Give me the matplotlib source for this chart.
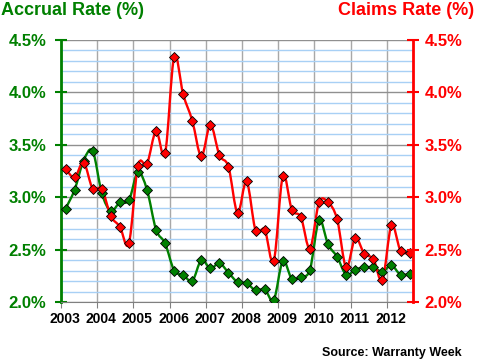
import numpy as np
import matplotlib
matplotlib.use("Agg")
import matplotlib.pyplot as plt
from matplotlib.path import Path
from matplotlib.patches import PathPatch
from matplotlib.ticker import MultipleLocator, FuncFormatter
import matplotlib.transforms as mtransforms

plt.rcParams['font.family'] = ['Liberation Sans', 'DejaVu Sans']
plt.rcParams['font.weight'] = 'bold'

# quarterly data, 2003 Q1 .. 2012 Q3
start_year = 2003
years = list(range(2003, 2013))
accrual = [2.89, 3.07, 3.35, 3.44, 3.04, 2.87, 2.95, 2.97,
           3.24, 3.07, 2.69, 2.56, 2.30, 2.26, 2.20, 2.40,
           2.32, 2.37, 2.28, 2.19, 2.18, 2.11, 2.12, 2.02,
           2.39, 2.22, 2.24, 2.31, 2.78, 2.55, 2.43, 2.26,
           2.31, 2.33, 2.33, 2.29, 2.35, 2.26, 2.27]
claims = [3.27, 3.19, 3.33, 3.08, 3.08, 2.82, 2.72, 2.56,
          3.30, 3.32, 3.63, 3.42, 4.34, 3.98, 3.73, 3.39,
          3.69, 3.40, 3.29, 2.85, 3.15, 2.68, 2.69, 2.39,
          3.20, 2.88, 2.81, 2.51, 2.95, 2.95, 2.79, 2.33,
          2.61, 2.46, 2.41, 2.21, 2.73, 2.49, 2.47]

GREEN = '#008000'
RED = '#ff0000'

x = start_year + (np.arange(len(accrual)) + 0.5) / 4


def smooth_path(xs, ys):
    # excel-like smoothed line (catmull-rom as cubic beziers)
    pts = np.column_stack([xs, ys])
    n = len(pts)
    verts = [pts[0]]
    codes = [Path.MOVETO]
    for i in range(n - 1):
        p0 = pts[max(i - 1, 0)]
        p1 = pts[i]
        p2 = pts[i + 1]
        p3 = pts[min(i + 2, n - 1)]
        verts += [p1 + (p2 - p0) / 6, p2 - (p3 - p1) / 6, p2]
        codes += [Path.CURVE4] * 3
    return Path(verts, codes)


fig = plt.figure(figsize=(4.8, 3.6), dpi=100)
ax = fig.add_axes([61 / 480, 58 / 360, 352 / 480, 262 / 360])
ax.set_xlim(2003, 2012.72)
ax.set_ylim(2.0, 4.5)

# grid
ax.yaxis.set_major_locator(MultipleLocator(0.5))
ax.yaxis.set_minor_locator(MultipleLocator(0.1))
ax.grid(True, which='minor', axis='y', color='#a8d0f5', lw=1, zorder=0)
ax.grid(True, which='major', axis='y', color='#909090', lw=1, zorder=0)
ax.set_xticks(years)
ax.grid(True, which='major', axis='x', color='#a8a8a8', lw=1, zorder=0)

for vals, col in [(accrual, GREEN), (claims, RED)]:
    ax.add_patch(PathPatch(smooth_path(x, vals), facecolor='none',
                           edgecolor=col, lw=1.7, zorder=3))
    ax.plot(x, vals, ls='none', marker='D', ms=5.2, mfc=col,
            mec='black', mew=0.6, zorder=4)

pct = FuncFormatter(lambda v, p: f"{v:.1f}%")

# left axis
ax.spines['top'].set_visible(False)
ax.spines['right'].set_visible(False)
ax.spines['left'].set_color(GREEN)
ax.spines['left'].set_linewidth(2)
ax.spines['bottom'].set_color('#808080')
ax.yaxis.set_major_formatter(pct)
ax.tick_params(axis='y', which='major', direction='inout', length=9, width=1.5,
               color=GREEN, labelcolor=GREEN, labelsize=12, pad=6)
ax.tick_params(axis='y', which='minor', length=0)
ax.tick_params(axis='x', direction='out', length=4, color='#808080',
               labelsize=10, pad=3)
offset = mtransforms.ScaledTranslation(4 / 100, 0, fig.dpi_scale_trans)
for lab in ax.get_xticklabels():
    lab.set_fontweight('bold')
    lab.set_transform(lab.get_transform() + offset)

# right axis
ax2 = ax.twinx()
ax2.set_ylim(2.0, 4.5)
ax2.yaxis.set_major_locator(MultipleLocator(0.5))
ax2.yaxis.set_major_formatter(pct)
for s in ['left', 'top', 'bottom']:
    ax2.spines[s].set_visible(False)
ax2.spines['right'].set_color(RED)
ax2.spines['right'].set_linewidth(2)
ax2.tick_params(axis='y', direction='inout', length=9, width=1.5,
                color=RED, labelcolor=RED, labelsize=12, pad=4)

fig.text(1 / 480, 1 - 2 / 360, "Accrual Rate (%)", color=GREEN, fontsize=13,
         fontweight='bold', ha='left', va='top')
fig.text(474 / 480, 1 - 2 / 360, "Claims Rate (%)", color=RED, fontsize=13,
         fontweight='bold', ha='right', va='top')
fig.text(462 / 480, 1 - 353 / 360, "Source: Warranty Week", color='black',
         fontsize=9, fontweight='bold', ha='right', va='center')

fig.savefig("out.png", dpi=100)
